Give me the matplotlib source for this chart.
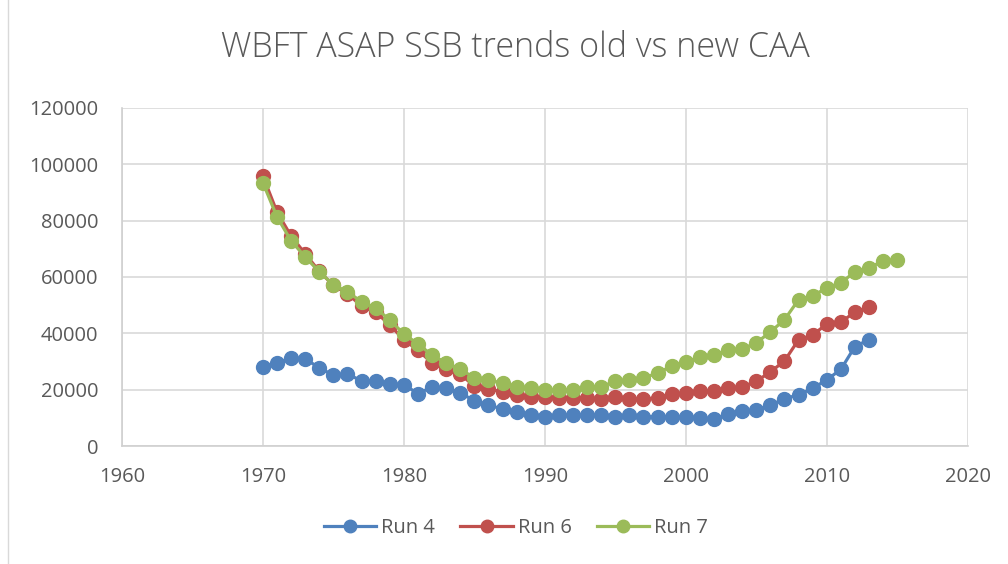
import matplotlib.pyplot as plt
from matplotlib.lines import Line2D

# SSB estimates
years_4 = list(range(1970, 2014))
run4 = [28000, 29500, 31200, 31000, 27700, 25200, 25600, 23100, 23000, 22000,
        21800, 18600, 21000, 20500, 19000, 16000, 14500, 13200, 12000, 11200,
        10500, 11000, 11000, 11000, 11000, 10500, 11000, 10500, 10500, 10500,
        10500, 10000, 9500, 11500, 12300, 12700, 14500, 16800, 18200, 20500,
        23500, 27200, 35300, 37800]

years_6 = list(range(1970, 2014))
run6 = [95800, 83000, 74500, 68200, 62000, 57000, 54000, 49700, 47500, 43000,
        37700, 34000, 29500, 27300, 25500, 21300, 20300, 19200, 18200, 17400,
        17500, 17000, 17000, 17000, 16800, 17400, 16800, 16800, 17000, 18500,
        18800, 19500, 19500, 20600, 21000, 23000, 26300, 30200, 37700, 39400,
        43300, 44000, 47500, 49400]

years_7 = list(range(1970, 2016))
run7 = [93400, 81300, 72800, 67100, 61800, 57200, 54700, 51200, 49000, 44700,
        39800, 36200, 32300, 29500, 27300, 24200, 23400, 22400, 21000, 20600,
        19900, 19900, 19900, 21000, 21000, 23100, 23400, 24200, 25900, 28400,
        29800, 31600, 32300, 34100, 34500, 36600, 40500, 44800, 51900, 53300,
        56100, 57900, 61800, 63200, 65700, 66100]

plt.rcParams['font.family'] = ['Open Sans', 'DejaVu Sans']

fig = plt.figure(figsize=(10.08, 5.64), dpi=100)
ax = fig.add_axes([0.121, 0.209, 0.839, 0.600])

series = [(years_4, run4, '#4f81bd', 'Run 4'),
          (years_6, run6, '#c0504d', 'Run 6'),
          (years_7, run7, '#9bbb59', 'Run 7')]
for x, y, col, lab in series:
    ax.plot(x, y, color=col, lw=2.3, marker='o', ms=10, label=lab)

ax.set_xlim(1960, 2020)
ax.set_ylim(0, 120000)
ax.set_xticks(range(1960, 2021, 10))
ax.set_yticks(range(0, 120001, 20000))
ax.grid(True, color='#d9d9d9', lw=1.2)
ax.set_axisbelow(True)
for s in ['top', 'right']:
    ax.spines[s].set_visible(False)
for s in ['left', 'bottom']:
    ax.spines[s].set_color('#d0d0d0')
    ax.spines[s].set_linewidth(1.2)
ax.tick_params(length=0, labelsize=14.5, colors='#595959')
ax.tick_params(axis='y', pad=17)
ax.tick_params(axis='x', pad=15)

fig.text(0.511, 0.915, 'WBFT ASAP SSB trends old vs new CAA', ha='center', va='center',
         fontsize=24.5, color='#595959', fontweight='light')

fig.legend(loc='center', bbox_to_anchor=(0.512, 0.064), ncol=3, frameon=False,
           fontsize=14.5, labelcolor='#595959', handlelength=2.6, columnspacing=1.25,
           handletextpad=0.25, markerscale=0.9)

# left edge of the chart frame
fig.lines.append(Line2D([0.008, 0.008], [0, 1], transform=fig.transFigure,
                        color='#d9d9d9', lw=1))

fig.savefig('out.png', dpi=100)
